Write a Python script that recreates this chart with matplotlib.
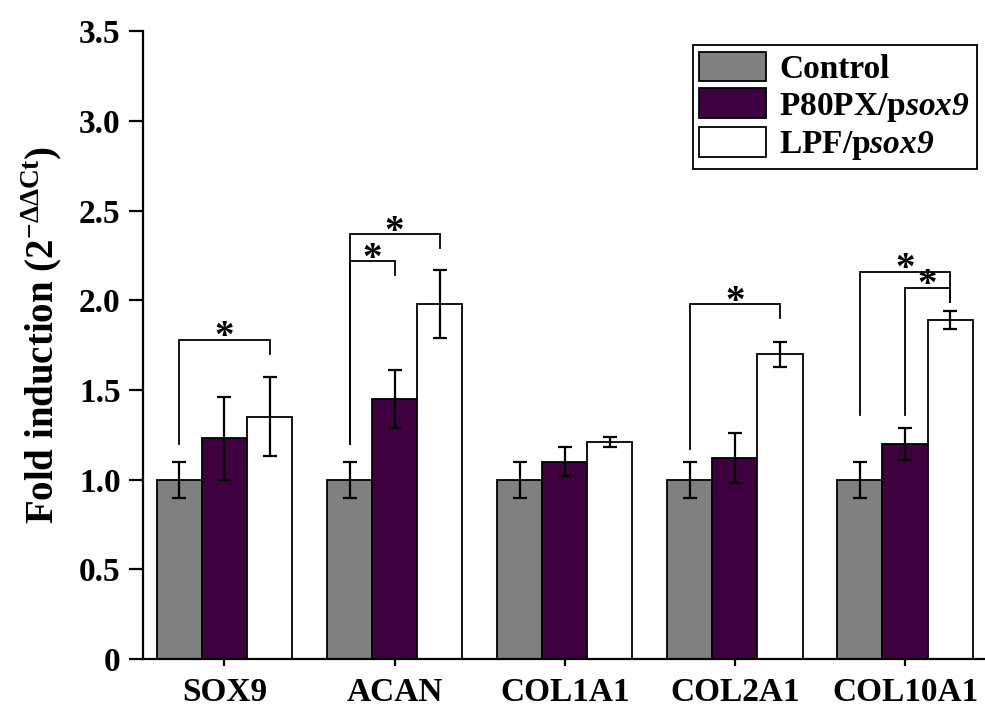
import matplotlib
matplotlib.use("Agg")
import matplotlib.pyplot as plt
import numpy as np

plt.rcParams['font.family'] = ['Liberation Serif', 'DejaVu Serif']
plt.rcParams['font.weight'] = 'bold'
plt.rcParams['mathtext.fontset'] = 'custom'
plt.rcParams['mathtext.rm'] = 'Liberation Serif:bold'
plt.rcParams['mathtext.bf'] = 'Liberation Serif:bold'
plt.rcParams['mathtext.sf'] = 'Liberation Serif:italic:bold'

categories = ['SOX9', 'ACAN', 'COL1A1', 'COL2A1', 'COL10A1']
series_names = ['Control', r'P80PX/p$\mathsf{sox9}$', r'LPF/p$\mathsf{sox9}$']
control = [1.0, 1.0, 1.0, 1.0, 1.0]
control_err = [0.10, 0.10, 0.10, 0.10, 0.10]
p80px = [1.23, 1.45, 1.10, 1.12, 1.20]
p80px_err = [0.23, 0.16, 0.08, 0.14, 0.09]
lpf = [1.35, 1.98, 1.21, 1.70, 1.89]
lpf_err = [0.22, 0.19, 0.03, 0.07, 0.05]
colors = ['#808080', '#3F0040', '#FFFFFF']

# significance brackets: (category index, from series, to series, top, left leg bottom, right leg bottom)
brackets = [
    (0, 0, 2, 1.78, 1.20, 1.70),
    (1, 0, 1, 2.22, 1.20, 2.14),
    (1, 0, 2, 2.37, 1.20, 2.29),
    (3, 0, 2, 1.98, 1.17, 1.90),
    (4, 0, 2, 2.16, 1.36, 1.99),
    (4, 1, 2, 2.07, 1.36, 1.99),
]

fig = plt.figure(figsize=(9.85, 7.08), dpi=100)
ax = fig.add_axes([0.145, 0.069, 0.855, 0.887])

x = np.arange(len(categories))
w = 0.265
vals = [control, p80px, lpf]
errs = [control_err, p80px_err, lpf_err]
for i in range(3):
    ax.bar(x + (i - 1) * w, vals[i], w, color=colors[i], edgecolor='black',
           linewidth=1.3, label=series_names[i], zorder=2)
    ax.errorbar(x + (i - 1) * w, vals[i], yerr=errs[i], fmt='none', ecolor='black',
                elinewidth=1.6, capsize=4.8, capthick=1.6, zorder=3)

for (c, s1, s2, top, lb, rb) in brackets:
    x1 = c + (s1 - 1) * w
    x2 = c + (s2 - 1) * w
    ax.plot([x1, x1, x2, x2], [lb, top, top, rb], color='black', lw=1.3,
            solid_joinstyle='miter', zorder=3)
    ax.text((x1 + x2) / 2, top + 0.01, '*', ha='center', va='center',
            fontsize=28, fontweight='bold')

ax.set_xlim(-0.48, 4.47)
ax.set_ylim(0, 3.5)
ax.set_yticks(np.arange(0, 3.51, 0.5))
ax.set_yticklabels(['0'] + [f'{v:.1f}' for v in np.arange(0.5, 3.51, 0.5)])
ax.set_xticks(x)
ax.set_xticklabels(categories)
ax.tick_params(axis='both', labelsize=24, width=1.6, direction='out')
ax.tick_params(axis='x', length=5, pad=8)
ax.tick_params(axis='y', length=10, pad=6)
for lab in ax.get_xticklabels() + ax.get_yticklabels():
    lab.set_fontweight('bold')
ax.spines['top'].set_visible(False)
ax.spines['right'].set_visible(False)
ax.spines['left'].set_linewidth(1.6)
ax.spines['bottom'].set_linewidth(1.6)

ax.set_ylabel(r'Fold induction (2$^{\mathbf{-\Delta\Delta Ct}}$)', fontsize=28,
              fontweight='bold')
ax.yaxis.set_label_coords(-0.092, 0.516)

leg = ax.legend(loc='upper right', bbox_to_anchor=(0.99, 0.978), fontsize=24,
                frameon=True, fancybox=False, edgecolor='black', framealpha=1,
                handlelength=2.0, handleheight=1.0, labelspacing=0.1,
                borderpad=0.2, handletextpad=0.4, borderaxespad=0)
leg.get_frame().set_linewidth(1.3)
for t in leg.get_texts():
    t.set_fontweight('bold')

fig.savefig('out.png', dpi=100)
